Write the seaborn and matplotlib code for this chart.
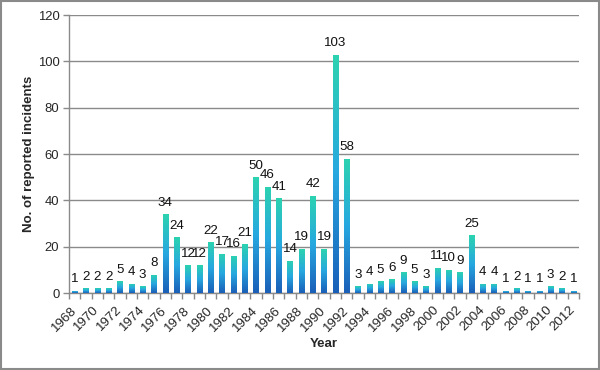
import numpy as np
import pandas as pd
import seaborn as sns
import matplotlib
matplotlib.use("Agg")
import matplotlib.pyplot as plt
import matplotlib.transforms as mtransforms
from matplotlib.colors import LinearSegmentedColormap
from matplotlib.patches import Rectangle

years = list(range(1968, 2013))
incidents = [1, 2, 2, 2, 5, 4, 3, 8, 34, 24, 12, 12, 22, 17, 16, 21, 50, 46, 41,
             14, 19, 42, 19, 103, 58, 3, 4, 5, 6, 9, 5, 3, 11, 10, 9, 25, 4, 4,
             1, 2, 1, 1, 3, 2, 1]
y_ticks = [0, 20, 40, 60, 80, 100, 120]

df = pd.DataFrame({"Year": [str(y) for y in years], "Incidents": incidents})

sns.set_theme(style="white")
plt.rcParams['font.family'] = ['Liberation Sans', 'DejaVu Sans']

fig = plt.figure(figsize=(6, 3.7), dpi=100)
ax = fig.add_axes([0.115, 0.208, 0.85, 0.751])

sns.barplot(data=df, x="Year", y="Incidents", ax=ax, width=0.45,
            color="#28b8e0", saturation=1, zorder=3)

cmap = LinearSegmentedColormap.from_list("g", ["#1a5fb8", "#27a8e0", "#2cd3b0"])
grad = np.linspace(0, 1, 256).reshape(-1, 1)
for p in ax.patches:
    x0, y0 = p.get_x(), p.get_y()
    w, h = p.get_width(), p.get_height()
    p.set_facecolor("none")
    p.set_edgecolor("none")
    im = ax.imshow(grad, cmap=cmap, origin="lower", aspect="auto",
                   extent=[x0, x0 + w, y0, y0 + h], zorder=3)
    im.set_clip_path(p)

for i, v in enumerate(incidents):
    ax.annotate(str(v), (i, v), xytext=(0, 4), textcoords="offset points",
                ha="center", va="bottom", fontsize=9.6, color="#111111", zorder=4)

ax.set_xlim(-0.5, len(years) - 0.5)
ax.set_ylim(0, 120)
ax.set_yticks(y_ticks)
ax.grid(axis="y", color="#8a8a8a", linewidth=1, zorder=0)
ax.set_axisbelow(True)

ax.set_xticks(range(0, len(years), 2))
ax.set_xticklabels([str(y) for y in years[::2]], rotation=45, ha="right",
                   va="center", rotation_mode="anchor", fontsize=9.6)
offset = mtransforms.ScaledTranslation(3 / 100, -2 / 100, fig.dpi_scale_trans)
for lbl in ax.get_xticklabels():
    lbl.set_transform(lbl.get_transform() + offset)
ax.set_xticks(np.arange(-0.5, len(years), 1), minor=True)
ax.tick_params(axis="x", which="major", length=0, pad=11)
ax.tick_params(axis="x", which="minor", length=4, color="#8a8a8a", width=1,
               direction="out", bottom=True)
ax.tick_params(axis="y", length=4, color="#8a8a8a", width=1, direction="out",
               left=True, labelsize=9.4, pad=3)

for s in ["top", "right"]:
    ax.spines[s].set_visible(False)
for s in ["left", "bottom"]:
    ax.spines[s].set_color("#8a8a8a")
    ax.spines[s].set_linewidth(1)

ax.set_xlabel("Year", fontsize=9.5, fontweight="bold", labelpad=3)
ax.set_ylabel("No. of reported incidents", fontsize=9.5, fontweight="bold",
              labelpad=2)

fig.patches.append(Rectangle((0.002, 0.003), 0.996, 0.994, transform=fig.transFigure,
                             fill=False, edgecolor="#8a8a8a", linewidth=1.5))

fig.savefig("out.png", dpi=100)
